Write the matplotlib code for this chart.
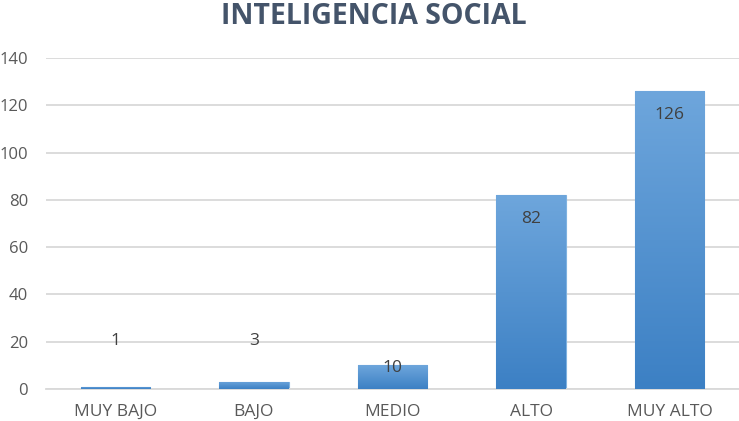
import numpy as np
import matplotlib
matplotlib.use("Agg")
import matplotlib.pyplot as plt
from matplotlib.colors import LinearSegmentedColormap

categories = ["MUY BAJO", "BAJO", "MEDIO", "ALTO", "MUY ALTO"]
values = [1, 3, 10, 82, 126]
yticks = [0, 20, 40, 60, 80, 100, 120, 140]

plt.rcParams["font.family"] = ["Open Sans", "DejaVu Sans"]

fig = plt.figure(figsize=(7.39, 4.21), dpi=100)
ax = fig.add_axes([46 / 739, 32 / 421, 693 / 739, 331 / 421])

x = np.arange(len(categories))
bars = ax.bar(x, values, width=0.5, color="#5b9bd5", zorder=2)

# vertical gradient like the Excel fill
cmap = LinearSegmentedColormap.from_list("g", ["#3c80c4", "#6ea6dc"])
grad = np.linspace(0, 1, 256).reshape(-1, 1)
for b in bars:
    x0, y0 = b.get_x(), b.get_y()
    w, h = b.get_width(), b.get_height()
    im = ax.imshow(grad, cmap=cmap, origin="lower", aspect="auto",
                   extent=[x0, x0 + w, y0, y0 + h], zorder=3)
    im.set_clip_path(b)
    b.set_edgecolor("#7fb2e0")
    b.set_linewidth(0.8)

for xi, v in zip(x, values):
    if v >= 50:
        ty = v - 10
    elif v >= 10:
        ty = v - 1
    else:
        ty = 20.5
    ax.text(xi, ty, str(v), ha="center", va="center", fontsize=12.5,
            color="#404040", zorder=5)

ax.set_xlim(-0.5, len(categories) - 0.5)
ax.set_ylim(0, 140)
ax.set_yticks(yticks)
ax.set_xticks(x)
ax.set_xticklabels(categories)
ax.tick_params(axis="both", length=0, labelsize=12.5, labelcolor="#595959")
ax.tick_params(axis="y", pad=13, labelsize=12)
ax.tick_params(axis="x", pad=11)
ax.grid(axis="y", color="#d9d9d9", linewidth=1.3, zorder=0)
ax.set_axisbelow(True)
for s in ["top", "right", "left"]:
    ax.spines[s].set_visible(False)
ax.spines["bottom"].set_color("#d9d9d9")
ax.spines["bottom"].set_linewidth(1.3)

fig.text(374 / 739, 1 - 16 / 421, "INTELIGENCIA SOCIAL", ha="center", va="center",
         fontsize=20.5, fontweight="bold", color="#44546a")

fig.savefig("out.png", dpi=100, facecolor="white")
